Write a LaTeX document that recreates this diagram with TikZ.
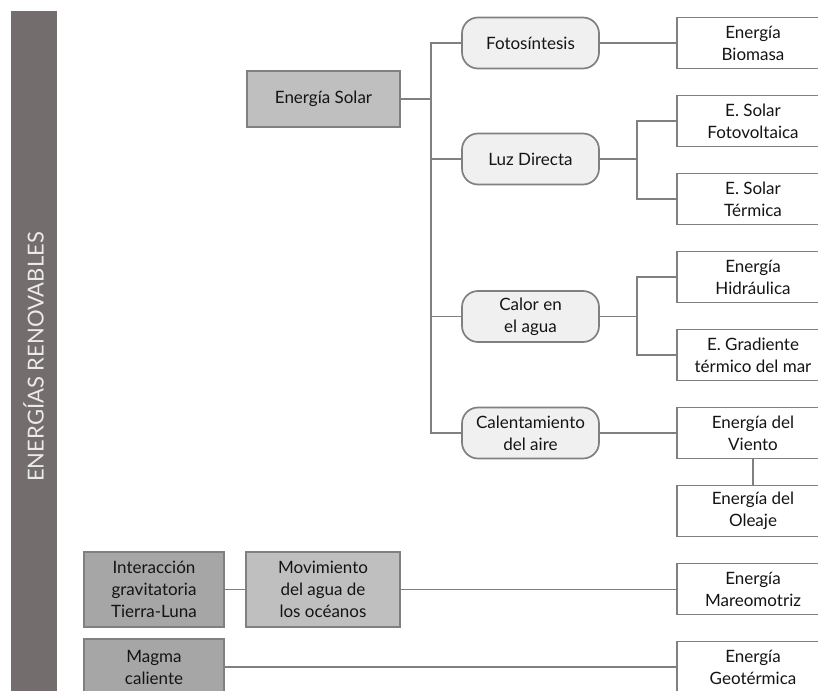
\documentclass[tikz,border=0pt]{standalone}
\usepackage{fontspec}
\setmainfont{Lato}
\usetikzlibrary{positioning}
\definecolor{barra}{RGB}{115,109,109}
\definecolor{linea}{RGB}{128,128,128}
\definecolor{texto}{RGB}{20,20,20}
\colorlet{fuente0}{black!35}
\colorlet{fuente1}{black!25}
\colorlet{proceso}{black!6}

\begin{document}
\begin{tikzpicture}[x=1pt, y=-1pt,
    caja/.style={draw=linea, line width=1.7pt, align=center, inner sep=2pt, text=texto, font=\fontsize{17}{22}\selectfont},
    fuente/.style={caja, fill=fuente1, minimum height=56pt},
    proc/.style={caja, fill=proceso, rounded corners=16pt, minimum width=137pt, minimum height=51pt},
    energia/.style={caja, fill=white, minimum width=152pt, minimum height=51pt},
    enlace/.style={draw=linea, line width=1.7pt}
  ]
  \clip (0,0) rectangle (818,690);
  \fill [barra] (10.5,11) rectangle (56.5,700);
  \node [rotate=90, text=black!8, font=\fontsize{22}{26}\selectfont] (titulo) at (33.5,357) {ENERGÍAS RENOVABLES};

  % fuentes
  \node [fuente, minimum width=153pt] (solar) at (323.5,99) {Energía Solar};
  \node [fuente, fill=fuente0, minimum width=140pt, minimum height=75pt] (grav) at (154,589.5) {Interacción\\gravitatoria\\Tierra-Luna};
  \node [fuente, minimum width=154pt, minimum height=75pt] (mov) at (323,589.5) {Movimiento\\del agua de\\los océanos};
  \node [fuente, fill=fuente0, minimum width=140pt] (magma) at (154,667) {Magma\\caliente};

  % procesos
  \node [proc] (foto) at (530.5,43) {Fotosíntesis};
  \node [proc] (luz) at (530.5,159) {Luz Directa};
  \node [proc] (calor) at (530.5,316.5) {Calor en\\el agua};
  \node [proc] (aire) at (530.5,433) {Calentamiento\\del aire};

  % energias
  \begin{scope}[every node/.style={energia}, node distance=78pt]
  \node at (753,43) (biomasa) {Energía\\Biomasa};
  \node [below of=biomasa] (fotov) {E. Solar\\Fotovoltaica};
  \node [below of=fotov] (termica) {E. Solar\\Térmica};
  \node [below of=termica] (hidra) {Energía\\Hidráulica};
  \node [below of=hidra] (gradiente) {E. Gradiente\\térmico del mar};
  \node [below of=gradiente] (viento) {Energía del\\Viento};
  \node [below of=viento] (oleaje) {Energía del\\Oleaje};
  \node [below of=oleaje] (mareo) {Energía\\Mareomotriz};
  \node [below of=mareo] (geo) {Energía\\Geotérmica};
  \end{scope}

  \coordinate (tronco) at (431,99);
  \coordinate (rluz) at (637,159);
  \coordinate (rcalor) at (637,316.5);

  \begin{scope}[every path/.style={enlace}]
  \path (solar.east) -- (tronco);
  \path (foto.west) -| (tronco) |- (aire.west);
  \path (luz.west) -- (luz.west -| tronco);
  \path (calor.west) -- (calor.west -| tronco);
  \path (foto) -- (biomasa);
  \path (luz.east) -- (rluz);
  \path (fotov.west) -| (rluz) |- (termica.west);
  \path (calor.east) -- (rcalor);
  \path (hidra.west) -| (rcalor) |- (gradiente.west);
  \path (aire) -- (viento);
  \path (viento) -- (oleaje);
  \path (grav) -- (mov);
  \path (mov.east) -- (mov.east -| mareo.west);
  \path (magma.east) -- (magma.east -| geo.west);
  \end{scope}
\end{tikzpicture}
\end{document}
